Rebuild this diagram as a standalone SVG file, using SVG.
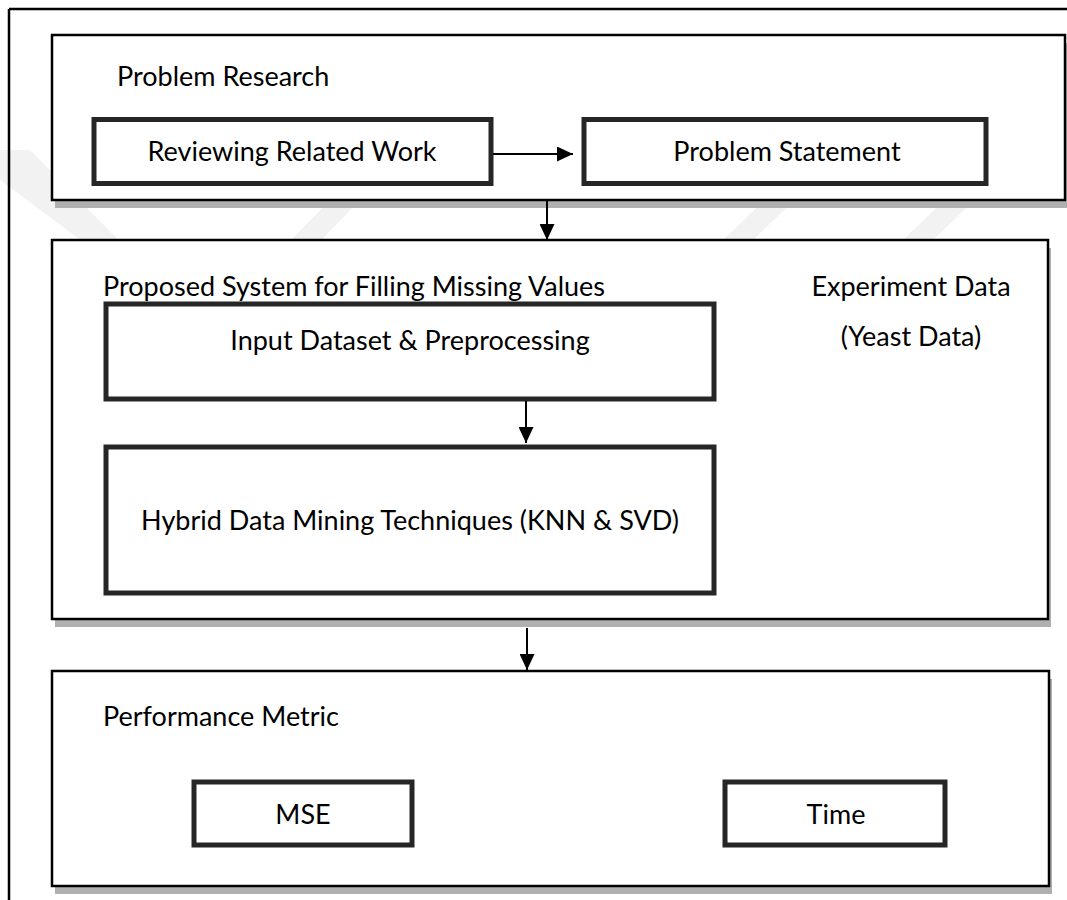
<svg xmlns="http://www.w3.org/2000/svg" width="1067" height="900" viewBox="0 0 1067 900">
  <style>
    .frame { stroke: #000; stroke-width: 2.5; fill: none; }
    .panel { fill: #fff; stroke: #000; stroke-width: 2.5; }
    .shadow { fill: #b0b0b0; }
    .box { fill: #fff; stroke: #262626; stroke-width: 5; }
    .lbl { font-family: Lato, "Liberation Sans", sans-serif; font-size: 27px; fill: #000; }
    .mid { text-anchor: middle; }
    .conn { stroke: #000; stroke-width: 2; fill: none; }
    .wm { fill: #f2f2f2; }
  </style>
  <defs>
    <marker id="head" viewBox="0 0 16 15" refX="16" refY="7.5" markerWidth="16" markerHeight="15" markerUnits="userSpaceOnUse" orient="auto">
      <path d="M0,0 L16,7.5 L0,15 Z" fill="#000"/>
    </marker>
  </defs>

  <rect width="1067" height="900" fill="#fff"/>

  <!-- faint background watermark stripes -->
  <g id="watermark">
    <polygon class="wm" points="0,150 30,150 140,262 110,262 0,180"/>
    <polygon class="wm" points="270,262 300,262 360,200 330,200"/>
    <polygon class="wm" points="700,262 730,262 800,195 770,195"/>
    <polygon class="wm" points="880,262 910,262 980,195 950,195"/>
  </g>

  <!-- page frame (top and left rules) -->
  <path class="frame" d="M9,9 H1067 M9,9 V900"/>

  <g id="panel-research">
    <rect class="shadow" x="55" y="43" width="1013" height="165"/>
    <rect class="panel" x="52" y="35" width="1013" height="165"/>
    <text class="lbl" x="117" y="86">Problem Research</text>
  </g>
  <g id="node-reviewing">
    <rect class="box" x="94" y="119.5" width="397" height="64"/>
    <text class="lbl mid" x="292" y="161">Reviewing Related Work</text>
  </g>
  <g id="node-statement">
    <rect class="box" x="584" y="119.5" width="402" height="64"/>
    <text class="lbl mid" x="787" y="161">Problem Statement</text>
  </g>

  <g id="panel-system">
    <rect class="shadow" x="55" y="248" width="996" height="379"/>
    <rect class="panel" x="52" y="240" width="996" height="379"/>
    <text class="lbl" x="103" y="296">Proposed System for Filling Missing Values</text>
    <text class="lbl mid" x="911" y="296">Experiment Data</text>
    <text class="lbl mid" x="911" y="346">(Yeast Data)</text>
  </g>
  <g id="node-input">
    <rect class="box" x="106" y="304" width="608" height="95"/>
    <text class="lbl mid" x="410" y="350">Input Dataset &amp; Preprocessing</text>
  </g>
  <g id="node-hybrid">
    <rect class="box" x="106" y="447" width="608" height="146"/>
    <text class="lbl mid" x="410" y="530">Hybrid Data Mining Techniques (KNN &amp; SVD)</text>
  </g>

  <g id="panel-metric">
    <rect class="shadow" x="55" y="679" width="997" height="215"/>
    <rect class="panel" x="52" y="671" width="997" height="215"/>
    <text class="lbl" x="103" y="726">Performance Metric</text>
  </g>
  <g id="node-mse">
    <rect class="box" x="194" y="782" width="218" height="63"/>
    <text class="lbl mid" x="303" y="824">MSE</text>
  </g>
  <g id="node-time">
    <rect class="box" x="725" y="782" width="220" height="63"/>
    <text class="lbl mid" x="836" y="824">Time</text>
  </g>

  <g id="connectors">
    <line class="conn" x1="493" y1="154" x2="573" y2="154" marker-end="url(#head)"/>
    <line class="conn" x1="547" y1="201" x2="547" y2="240" marker-end="url(#head)"/>
    <line class="conn" x1="526" y1="401" x2="526" y2="443" marker-end="url(#head)"/>
    <line class="conn" x1="527" y1="628" x2="527" y2="670" marker-end="url(#head)"/>
  </g>
</svg>
